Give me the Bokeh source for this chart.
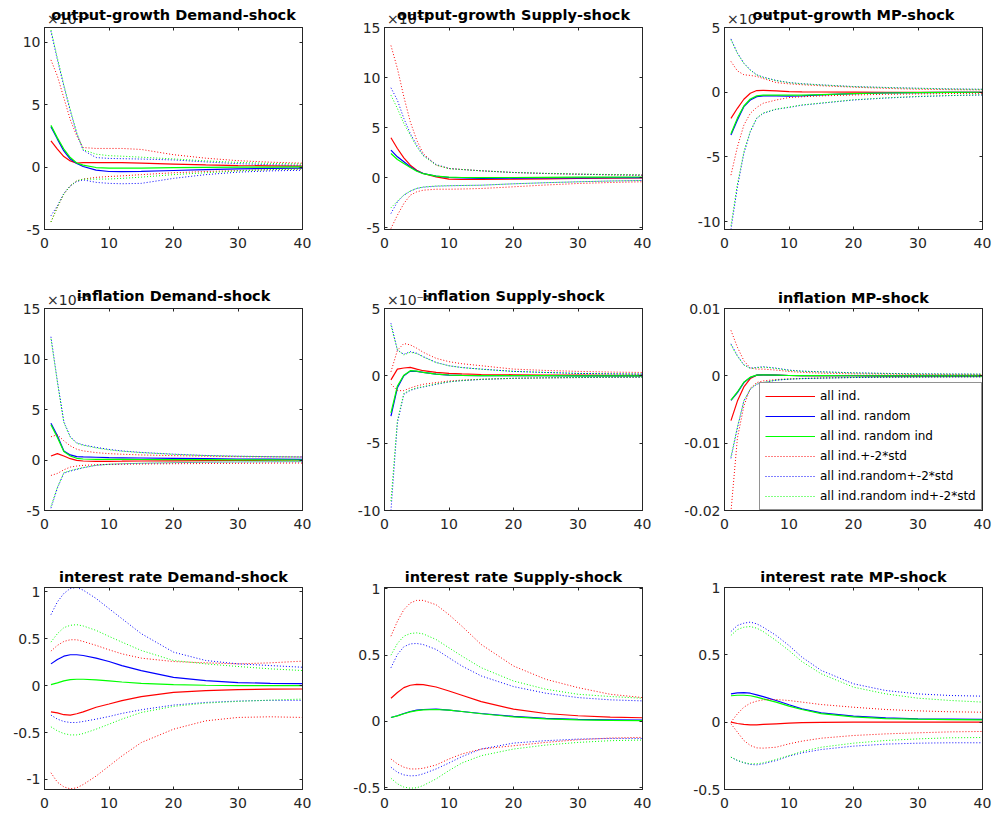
from bokeh.plotting import figure
from bokeh.layouts import column, row
from bokeh.models import (LinearAxis, FixedTicker, CustomJSTickFormatter, Range1d,
                          Legend, LegendItem)
from bokeh.embed import file_html
from bokeh.resources import INLINE

# ---------------- data ----------------
steps = [1, 2, 3, 4, 5, 6, 8, 10, 12, 15, 20, 25, 30, 35, 40]

# output-growth, Demand-shock (x 1e-3)
og_dem_ind    = [2.1, 1.45, 0.85, 0.5, 0.32, 0.37, 0.37, 0.37, 0.36, 0.33, 0.25, 0.18, 0.13, 0.1, 0.08]
og_dem_rnd    = [3.25, 2.25, 1.3, 0.65, 0.3, 0.05, -0.24, -0.35, -0.36, -0.34, -0.27, -0.2, -0.14, -0.1, -0.07]
og_dem_rin    = [3.35, 2.35, 1.45, 0.77, 0.33, 0.16, -0.03, -0.08, -0.08, -0.07, -0.04, -0.02, 0.0, 0.01, 0.02]
og_dem_ind_hi = [8.6, 7.3, 5.55, 3.8, 2.5, 1.57, 1.5, 1.5, 1.5, 1.42, 1.0, 0.72, 0.52, 0.4, 0.32]
og_dem_ind_lo = [-4.4, -3.2, -2.15, -1.5, -1.1, -0.95, -0.82, -0.75, -0.7, -0.6, -0.45, -0.35, -0.27, -0.2, -0.15]
og_dem_rnd_hi = [10.9, 8.6, 6.5, 4.5, 2.7, 1.35, 0.77, 0.7, 0.68, 0.65, 0.58, 0.42, 0.28, 0.2, 0.15]
og_dem_rnd_lo = [-3.9, -3.1, -2.1, -1.5, -1.15, -1.02, -1.22, -1.3, -1.33, -1.3, -0.9, -0.6, -0.4, -0.3, -0.25]
og_dem_rin_hi = [11.0, 8.75, 6.6, 4.6, 2.77, 1.4, 1.04, 0.92, 0.88, 0.8, 0.66, 0.5, 0.38, 0.3, 0.25]
og_dem_rin_lo = [-4.4, -3.2, -2.15, -1.5, -1.1, -0.96, -0.96, -0.95, -0.9, -0.8, -0.6, -0.45, -0.3, -0.2, -0.15]

# output-growth, Supply-shock (x 1e-3)
og_sup_ind    = [3.97, 2.9, 1.97, 1.23, 0.73, 0.4, 0.07, -0.17, -0.2, -0.2, -0.17, -0.13, -0.1, -0.06, -0.03]
og_sup_rnd    = [2.73, 2.07, 1.57, 1.07, 0.67, 0.4, 0.13, 0.0, -0.05, -0.08, -0.07, -0.05, -0.03, -0.02, -0.01]
og_sup_rin    = [2.4, 1.8, 1.4, 1.0, 0.63, 0.38, 0.13, 0.03, 0.0, -0.02, 0.0, 0.02, 0.03, 0.04, 0.05]
og_sup_ind_hi = [13.2, 10.9, 8.07, 5.57, 3.73, 2.4, 1.23, 0.9, 0.8, 0.67, 0.5, 0.4, 0.33, 0.27, 0.23]
og_sup_ind_lo = [-5.1, -3.77, -2.6, -1.77, -1.43, -1.27, -1.17, -1.17, -1.15, -1.1, -0.93, -0.75, -0.6, -0.5, -0.43]
og_sup_rnd_hi = [8.97, 7.73, 5.9, 4.4, 3.23, 2.23, 1.3, 0.9, 0.8, 0.67, 0.5, 0.4, 0.33, 0.27, 0.23]
og_sup_rnd_lo = [-3.6, -2.43, -1.77, -1.37, -1.1, -0.97, -0.87, -0.83, -0.8, -0.77, -0.63, -0.52, -0.43, -0.35, -0.3]
og_sup_rin_hi = [8.23, 6.9, 5.4, 4.23, 3.07, 2.17, 1.25, 0.88, 0.8, 0.67, 0.5, 0.42, 0.35, 0.3, 0.27]
og_sup_rin_lo = [-3.03, -2.37, -1.75, -1.35, -1.08, -0.95, -0.85, -0.82, -0.8, -0.77, -0.63, -0.52, -0.43, -0.35, -0.3]

# output-growth, MP-shock (x 1e-3)
og_mp_ind    = [-2.02, -1.24, -0.54, -0.08, 0.13, 0.15, 0.1, 0.05, 0.03, 0.02, 0.01, 0.0, 0.0, 0.0, 0.0]
og_mp_rnd    = [-3.3, -2.15, -1.11, -0.6, -0.34, -0.28, -0.28, -0.3, -0.28, -0.2, -0.1, -0.06, -0.03, -0.01, 0.0]
og_mp_rin    = [-3.2, -2.0, -1.06, -0.52, -0.28, -0.23, -0.23, -0.23, -0.22, -0.18, -0.1, -0.06, -0.03, -0.01, 0.0]
og_mp_ind_hi = [2.38, 1.65, 1.35, 1.3, 1.22, 1.06, 0.75, 0.65, 0.58, 0.5, 0.39, 0.3, 0.23, 0.2, 0.18]
og_mp_ind_lo = [-6.4, -4.22, -2.54, -1.63, -1.17, -0.85, -0.6, -0.41, -0.35, -0.28, -0.21, -0.16, -0.13, -0.1, -0.08]
og_mp_rnd_hi = [4.12, 3.03, 2.25, 1.73, 1.35, 1.17, 0.91, 0.75, 0.66, 0.57, 0.44, 0.37, 0.31, 0.26, 0.23]
og_mp_rnd_lo = [-10.6, -7.33, -4.74, -3.06, -2.02, -1.63, -1.32, -1.17, -1.0, -0.85, -0.6, -0.45, -0.34, -0.26, -0.21]
og_mp_rin_hi = [4.05, 3.0, 2.22, 1.7, 1.33, 1.15, 0.9, 0.74, 0.65, 0.56, 0.43, 0.36, 0.3, 0.25, 0.22]
og_mp_rin_lo = [-10.3, -7.1, -4.6, -3.0, -1.98, -1.6, -1.3, -1.15, -0.98, -0.83, -0.58, -0.43, -0.32, -0.25, -0.2]

# inflation, Demand-shock (x 1e-3)
inf_dem_ind    = [0.4, 0.63, 0.4, 0.13, -0.03, -0.1, -0.13, -0.13, -0.12, -0.1, -0.08, -0.06, -0.04, -0.02, 0.0]
inf_dem_rnd    = [3.63, 2.4, 0.9, 0.5, 0.33, 0.3, 0.27, 0.23, 0.22, 0.2, 0.17, 0.14, 0.1, 0.08, 0.06]
inf_dem_rin    = [3.5, 2.23, 0.83, 0.4, 0.17, 0.1, 0.07, 0.07, 0.06, 0.05, 0.04, 0.03, 0.02, 0.01, 0.0]
inf_dem_ind_hi = [2.3, 2.5, 1.9, 1.4, 1.07, 0.9, 0.73, 0.63, 0.57, 0.5, 0.43, 0.38, 0.33, 0.31, 0.3]
inf_dem_ind_lo = [-1.53, -1.33, -0.97, -0.7, -0.6, -0.53, -0.47, -0.43, -0.42, -0.4, -0.37, -0.35, -0.33, -0.31, -0.3]
inf_dem_rnd_hi = [12.2, 7.8, 3.8, 2.3, 1.7, 1.5, 1.25, 1.05, 0.9, 0.75, 0.58, 0.45, 0.38, 0.33, 0.3]
inf_dem_rnd_lo = [-4.77, -2.77, -1.3, -1.1, -0.93, -0.77, -0.53, -0.43, -0.38, -0.33, -0.27, -0.23, -0.2, -0.18, -0.17]
inf_dem_rin_hi = [12.0, 7.7, 3.7, 2.25, 1.65, 1.45, 1.2, 1.0, 0.87, 0.73, 0.56, 0.44, 0.37, 0.32, 0.29]
inf_dem_rin_lo = [-4.6, -2.7, -1.25, -1.05, -0.9, -0.75, -0.52, -0.42, -0.37, -0.32, -0.26, -0.22, -0.19, -0.17, -0.16]

# inflation, Supply-shock (x 1e-3)
inf_sup_ind    = [-0.3, 0.5, 0.58, 0.63, 0.5, 0.38, 0.25, 0.18, 0.14, 0.1, 0.08, 0.06, 0.05, 0.04, 0.03]
inf_sup_rnd    = [-3.0, -0.88, 0.0, 0.35, 0.33, 0.25, 0.13, 0.05, 0.03, 0.02, 0.01, 0.01, 0.0, 0.0, 0.0]
inf_sup_rin    = [-2.75, -0.75, 0.05, 0.38, 0.35, 0.25, 0.13, 0.06, 0.03, 0.02, 0.01, 0.01, 0.0, 0.0, 0.0]
inf_sup_ind_hi = [0.3, 1.9, 2.4, 2.3, 2.05, 1.75, 1.3, 1.05, 0.9, 0.75, 0.5, 0.4, 0.33, 0.28, 0.25]
inf_sup_ind_lo = [-0.6, -1.1, -1.1, -0.9, -0.75, -0.63, -0.5, -0.38, -0.32, -0.25, -0.18, -0.15, -0.13, -0.11, -0.1]
inf_sup_rnd_hi = [3.9, 1.9, 1.6, 1.8, 1.68, 1.43, 1.0, 0.75, 0.62, 0.5, 0.33, 0.25, 0.18, 0.15, 0.13]
inf_sup_rnd_lo = [-10.0, -3.5, -1.38, -1.08, -0.93, -0.83, -0.63, -0.45, -0.36, -0.27, -0.19, -0.15, -0.13, -0.11, -0.1]
inf_sup_rin_hi = [3.75, 1.95, 1.55, 1.75, 1.65, 1.4, 0.98, 0.74, 0.61, 0.49, 0.33, 0.25, 0.18, 0.15, 0.13]
inf_sup_rin_lo = [-9.3, -3.3, -1.3, -1.05, -0.9, -0.8, -0.6, -0.44, -0.35, -0.26, -0.18, -0.15, -0.12, -0.1, -0.09]

# inflation, MP-shock
inf_mp_ind    = [-0.00665, -0.00375, -0.00165, -0.0004, 0.0001, 0.00015, 0.0001, 0.00005, 0.00003, 0.00002, 0.00001, 0.0, 0.0, 0.0, 0.0]
inf_mp_rnd    = [-0.00365, -0.0025, -0.001, -0.00025, 0.0001, 0.00015, 0.0001, 0.00005, 0.00003, 0.00002, 0.00001, 0.0, 0.0, 0.0, 0.0]
inf_mp_rin    = [-0.0036, -0.0024, -0.00095, -0.0002, 0.0001, 0.00015, 0.0001, 0.00005, 0.00003, 0.00002, 0.00001, 0.0, 0.0, 0.0, 0.0]
inf_mp_ind_hi = [0.00675, 0.00425, 0.00225, 0.00115, 0.001, 0.001, 0.00085, 0.00065, 0.00052, 0.0004, 0.0003, 0.00025, 0.0002, 0.00018, 0.00015]
inf_mp_ind_lo = [-0.0202, -0.00925, -0.0045, -0.00185, -0.001, -0.00075, -0.00055, -0.00045, -0.00038, -0.0003, -0.00025, -0.0002, -0.00017, -0.00015, -0.00013]
inf_mp_rnd_hi = [0.00475, 0.003, 0.00165, 0.00115, 0.00125, 0.00135, 0.00115, 0.00085, 0.0007, 0.0006, 0.00045, 0.00036, 0.0003, 0.00027, 0.00025]
inf_mp_rnd_lo = [-0.01225, -0.00775, -0.00375, -0.002, -0.00125, -0.001, -0.00065, -0.0005, -0.00042, -0.00035, -0.00025, -0.0002, -0.00018, -0.00016, -0.00015]
inf_mp_rin_hi = [0.0046, 0.0029, 0.0016, 0.0011, 0.0012, 0.0013, 0.0011, 0.00082, 0.00068, 0.00058, 0.00044, 0.00035, 0.0003, 0.00027, 0.00025]
inf_mp_rin_lo = [-0.012, -0.0076, -0.0037, -0.00195, -0.0012, -0.00098, -0.00063, -0.00049, -0.00041, -0.00034, -0.00025, -0.0002, -0.00018, -0.00016, -0.00015]

# interest rate, Demand-shock
ir_dem_ind    = [-0.279, -0.29, -0.31, -0.314, -0.3, -0.28, -0.23, -0.196, -0.16, -0.118, -0.071, -0.054, -0.043, -0.038, -0.036]
ir_dem_rnd    = [0.232, 0.279, 0.314, 0.329, 0.329, 0.321, 0.293, 0.257, 0.214, 0.16, 0.089, 0.054, 0.032, 0.025, 0.021]
ir_dem_rin    = [0.011, 0.029, 0.05, 0.064, 0.068, 0.068, 0.061, 0.05, 0.039, 0.025, 0.011, 0.004, 0.0, 0.0, 0.0]
ir_dem_ind_hi = [0.368, 0.429, 0.471, 0.489, 0.489, 0.471, 0.429, 0.382, 0.339, 0.293, 0.257, 0.243, 0.232, 0.243, 0.261]
ir_dem_ind_lo = [-0.929, -1.029, -1.079, -1.1, -1.089, -1.054, -0.964, -0.857, -0.75, -0.607, -0.464, -0.375, -0.339, -0.332, -0.339]
ir_dem_rnd_hi = [0.757, 0.893, 0.982, 1.036, 1.046, 1.018, 0.929, 0.821, 0.714, 0.554, 0.357, 0.268, 0.232, 0.214, 0.196]
ir_dem_rnd_lo = [-0.314, -0.357, -0.382, -0.393, -0.393, -0.382, -0.357, -0.329, -0.296, -0.257, -0.207, -0.179, -0.164, -0.157, -0.157]
ir_dem_rin_hi = [0.464, 0.554, 0.618, 0.643, 0.65, 0.636, 0.589, 0.525, 0.464, 0.375, 0.268, 0.232, 0.204, 0.179, 0.161]
ir_dem_rin_lo = [-0.439, -0.482, -0.511, -0.525, -0.525, -0.511, -0.464, -0.411, -0.357, -0.286, -0.221, -0.186, -0.168, -0.154, -0.143]

# interest rate, Supply-shock
ir_sup_ind    = [0.175, 0.218, 0.255, 0.273, 0.28, 0.278, 0.26, 0.23, 0.198, 0.15, 0.093, 0.06, 0.043, 0.033, 0.028]
ir_sup_rnd    = [0.03, 0.043, 0.06, 0.075, 0.085, 0.09, 0.093, 0.085, 0.075, 0.06, 0.038, 0.023, 0.015, 0.012, 0.01]
ir_sup_rin    = [0.03, 0.042, 0.058, 0.072, 0.082, 0.087, 0.09, 0.085, 0.075, 0.058, 0.035, 0.02, 0.012, 0.008, 0.006]
ir_sup_ind_hi = [0.643, 0.755, 0.843, 0.893, 0.913, 0.913, 0.88, 0.805, 0.718, 0.58, 0.418, 0.318, 0.255, 0.205, 0.18]
ir_sup_ind_lo = [-0.283, -0.32, -0.345, -0.358, -0.358, -0.353, -0.328, -0.283, -0.245, -0.208, -0.183, -0.158, -0.138, -0.125, -0.12]
ir_sup_rnd_hi = [0.405, 0.505, 0.563, 0.585, 0.588, 0.58, 0.543, 0.48, 0.418, 0.343, 0.263, 0.213, 0.18, 0.163, 0.155]
ir_sup_rnd_lo = [-0.345, -0.383, -0.403, -0.41, -0.408, -0.395, -0.358, -0.313, -0.265, -0.208, -0.163, -0.145, -0.133, -0.128, -0.128]
ir_sup_rin_hi = [0.5, 0.588, 0.643, 0.663, 0.668, 0.66, 0.618, 0.555, 0.493, 0.405, 0.305, 0.243, 0.205, 0.188, 0.175]
ir_sup_rin_lo = [-0.428, -0.47, -0.495, -0.503, -0.5, -0.483, -0.433, -0.37, -0.313, -0.258, -0.208, -0.178, -0.158, -0.145, -0.14]

# interest rate, MP-shock
ir_mp_ind    = [0.0, -0.01, -0.017, -0.02, -0.02, -0.017, -0.012, -0.007, -0.004, -0.002, 0.0, 0.0, 0.0, 0.0, 0.0]
ir_mp_rnd    = [0.21, 0.218, 0.22, 0.215, 0.203, 0.19, 0.161, 0.129, 0.099, 0.069, 0.045, 0.032, 0.025, 0.022, 0.02]
ir_mp_rin    = [0.196, 0.2, 0.2, 0.196, 0.186, 0.173, 0.149, 0.119, 0.094, 0.064, 0.04, 0.027, 0.022, 0.019, 0.017]
ir_mp_ind_hi = [0.0, 0.062, 0.111, 0.141, 0.156, 0.166, 0.168, 0.161, 0.149, 0.131, 0.111, 0.094, 0.084, 0.077, 0.074]
ir_mp_ind_lo = [-0.012, -0.074, -0.136, -0.173, -0.191, -0.193, -0.186, -0.161, -0.141, -0.119, -0.099, -0.087, -0.079, -0.072, -0.069]
ir_mp_rnd_hi = [0.673, 0.718, 0.735, 0.743, 0.73, 0.705, 0.644, 0.569, 0.483, 0.384, 0.285, 0.235, 0.21, 0.198, 0.193]
ir_mp_rnd_lo = [-0.26, -0.285, -0.302, -0.314, -0.317, -0.309, -0.285, -0.252, -0.228, -0.203, -0.178, -0.163, -0.156, -0.153, -0.153]
ir_mp_rin_hi = [0.644, 0.688, 0.705, 0.71, 0.698, 0.673, 0.606, 0.532, 0.45, 0.359, 0.26, 0.21, 0.178, 0.161, 0.149]
ir_mp_rin_lo = [-0.26, -0.283, -0.3, -0.309, -0.309, -0.302, -0.277, -0.248, -0.218, -0.186, -0.156, -0.136, -0.124, -0.116, -0.114]

legend_labels = ["all ind.", "all ind. random", "all ind. random ind",
                 "all ind.+-2*std", "all ind.random+-2*std", "all ind.random ind+-2*std"]
x_ticks = [0, 10, 20, 30, 40]

# ---------------- styling ----------------
AX = "#262626"
RED, BLUE, GREEN = "#FF0000", "#0000FF", "#00FF00"
FONT = "DejaVu Sans"

fmt = CustomJSTickFormatter(code="return tick.toString();")
# the "x10^-3" axis multiplier shown at the top-left of the scaled panels
exp_fmt = CustomJSTickFormatter(code="return '\\u00d710\\u207b\\u00b3';")


def style_axis(ax, ticks, show_labels):
    ax.ticker = FixedTicker(ticks=ticks)
    ax.formatter = fmt
    ax.major_tick_in = 3
    ax.major_tick_out = 0
    ax.minor_tick_line_color = None
    ax.axis_line_color = AX
    ax.major_tick_line_color = AX
    ax.major_label_text_color = AX
    ax.major_label_text_font = FONT
    ax.major_label_text_font_size = "14px"
    if not show_labels:
        ax.major_label_text_font_size = "0px"
        ax.major_label_text_color = None
        ax.major_label_standoff = 0


def panel(title, series, y_range, y_ticks, exponent, width, height, borders):
    bl, br, bt, bb = borders
    p = figure(width=width, height=height, x_range=Range1d(0, 40),
               y_range=Range1d(*y_range), output_backend="svg",
               toolbar_location=None, min_border_left=bl, min_border_right=br,
               min_border_top=bt, min_border_bottom=bb, title=None)
    p.xgrid.visible = False
    p.ygrid.visible = False
    p.outline_line_color = AX
    p.background_fill_color = "white"

    style_axis(p.xaxis[0], x_ticks, True)
    p.xaxis[0].major_label_standoff = 8
    style_axis(p.yaxis[0], y_ticks, True)
    p.yaxis[0].major_label_standoff = 4
    top = LinearAxis()
    style_axis(top, x_ticks, False)
    p.add_layout(top, "above")
    right = LinearAxis()
    style_axis(right, y_ticks, False)
    p.add_layout(right, "right")

    # title line: the x10^-3 multiplier (left) and the bold title (centred)
    ta = LinearAxis(ticker=FixedTicker(ticks=[3.7] if exponent else []),
                    formatter=exp_fmt)
    ta.axis_line_color = None
    ta.major_tick_line_color = None
    ta.major_tick_in = 0
    ta.major_tick_out = 0
    ta.minor_tick_line_color = None
    ta.major_label_standoff = 1
    ta.major_label_text_font = FONT
    ta.major_label_text_font_size = "14px"
    ta.major_label_text_color = AX
    ta.axis_label = title
    ta.axis_label_text_font = FONT
    ta.axis_label_text_font_style = "bold"
    ta.axis_label_text_font_size = "14.5px"
    ta.axis_label_text_color = "black"
    ta.axis_label_standoff = -15 if exponent else 3
    p.add_layout(ta, "above")

    ind, rnd, rin, ind_hi, ind_lo, rnd_hi, rnd_lo, rin_hi, rin_lo = series
    rs = []
    rs.append(p.line(steps, ind, line_color=RED, line_width=1.2))
    rs.append(p.line(steps, rnd, line_color=BLUE, line_width=1.2))
    rs.append(p.line(steps, rin, line_color=GREEN, line_width=1.2))
    dot = dict(line_width=1, line_dash="1 2")
    rs.append(p.line(steps, ind_hi, line_color=RED, **dot))
    p.line(steps, ind_lo, line_color=RED, **dot)
    rs.append(p.line(steps, rnd_hi, line_color=BLUE, **dot))
    p.line(steps, rnd_lo, line_color=BLUE, **dot)
    rs.append(p.line(steps, rin_hi, line_color=GREEN, **dot))
    p.line(steps, rin_lo, line_color=GREEN, **dot)
    return p, rs


W = [340, 340, 318]
H = [280, 280, 256]
BX = [(44, 38), (44, 38), (44, 16)]
BY = [(27, 51), (28, 50), (27, 27)]

specs = [
    [("output-growth Demand-shock",
      [og_dem_ind, og_dem_rnd, og_dem_rin, og_dem_ind_hi, og_dem_ind_lo, og_dem_rnd_hi, og_dem_rnd_lo, og_dem_rin_hi, og_dem_rin_lo],
      (-5, 11.2), [-5, 0, 5, 10], True),
     ("output-growth Supply-shock",
      [og_sup_ind, og_sup_rnd, og_sup_rin, og_sup_ind_hi, og_sup_ind_lo, og_sup_rnd_hi, og_sup_rnd_lo, og_sup_rin_hi, og_sup_rin_lo],
      (-5.2, 15), [-5, 0, 5, 10, 15], True),
     ("output-growth MP-shock",
      [og_mp_ind, og_mp_rnd, og_mp_rin, og_mp_ind_hi, og_mp_ind_lo, og_mp_rnd_hi, og_mp_rnd_lo, og_mp_rin_hi, og_mp_rin_lo],
      (-10.6, 5), [-10, -5, 0, 5], True)],
    [("inflation Demand-shock",
      [inf_dem_ind, inf_dem_rnd, inf_dem_rin, inf_dem_ind_hi, inf_dem_ind_lo, inf_dem_rnd_hi, inf_dem_rnd_lo, inf_dem_rin_hi, inf_dem_rin_lo],
      (-5, 15), [-5, 0, 5, 10, 15], True),
     ("inflation Supply-shock",
      [inf_sup_ind, inf_sup_rnd, inf_sup_rin, inf_sup_ind_hi, inf_sup_ind_lo, inf_sup_rnd_hi, inf_sup_rnd_lo, inf_sup_rin_hi, inf_sup_rin_lo],
      (-10, 5), [-10, -5, 0, 5], True),
     ("inflation MP-shock",
      [inf_mp_ind, inf_mp_rnd, inf_mp_rin, inf_mp_ind_hi, inf_mp_ind_lo, inf_mp_rnd_hi, inf_mp_rnd_lo, inf_mp_rin_hi, inf_mp_rin_lo],
      (-0.02, 0.01), [-0.02, -0.01, 0, 0.01], False)],
    [("interest rate Demand-shock",
      [ir_dem_ind, ir_dem_rnd, ir_dem_rin, ir_dem_ind_hi, ir_dem_ind_lo, ir_dem_rnd_hi, ir_dem_rnd_lo, ir_dem_rin_hi, ir_dem_rin_lo],
      (-1.107, 1.046), [-1, -0.5, 0, 0.5, 1], False),
     ("interest rate Supply-shock",
      [ir_sup_ind, ir_sup_rnd, ir_sup_rin, ir_sup_ind_hi, ir_sup_ind_lo, ir_sup_rnd_hi, ir_sup_rnd_lo, ir_sup_rin_hi, ir_sup_rin_lo],
      (-0.513, 1.01), [-0.5, 0, 0.5, 1], False),
     ("interest rate MP-shock",
      [ir_mp_ind, ir_mp_rnd, ir_mp_rin, ir_mp_ind_hi, ir_mp_ind_lo, ir_mp_rnd_hi, ir_mp_rnd_lo, ir_mp_rin_hi, ir_mp_rin_lo],
      (-0.5, 1), [-0.5, 0, 0.5, 1], False)],
]

rows = []
for i, spec_row in enumerate(specs):
    figs = []
    for j, (title, series, yr, yt, ex) in enumerate(spec_row):
        p, rs = panel(title, series, yr, yt, ex, W[j], H[i],
                      (BX[j][0], BX[j][1], BY[i][0], BY[i][1]))
        if i == 1 and j == 2:
            legend = Legend(items=[LegendItem(label=lab, renderers=[r])
                                   for lab, r in zip(legend_labels, rs)],
                            location=(35, 0))
            legend.label_text_font = FONT
            legend.label_text_font_size = "12px"
            legend.label_text_color = "black"
            legend.glyph_width = 50
            legend.glyph_height = 16
            legend.label_height = 16
            legend.spacing = 4
            legend.padding = 5
            legend.label_standoff = 5
            legend.margin = 0
            legend.border_line_color = AX
            legend.border_line_width = 1
            legend.background_fill_color = "white"
            legend.background_fill_alpha = 1
            p.add_layout(legend)
        figs.append(p)
    rows.append(row(*figs))

layout = column(*rows)
open("out.html", "w").write(file_html(layout, INLINE))
